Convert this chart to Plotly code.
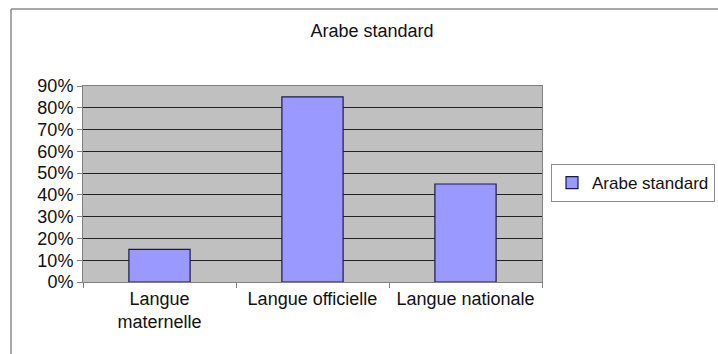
import plotly.graph_objects as go

categories = ["Langue<br>maternelle", "Langue officielle", "Langue nationale"]
values = [0.15, 0.85, 0.45]
series_name = "Arabe standard"
tick_vals = [i / 10 for i in range(10)]
tick_text = [f"{i * 10}%" for i in range(10)]

W, H = 718, 354
ML, MR, MT, MB = 83, 176, 86, 72
pw = W - ML - MR
ph = H - MT - MB

FONT = "Liberation Sans, Arial, sans-serif"

fig = go.Figure()
fig.add_trace(go.Bar(
    x=categories,
    y=values,
    name=series_name,
    marker=dict(color="#9999FF", line=dict(color="#1a1a4a", width=1.2)),
    showlegend=True,
))

# outer chart frame (top and left edges visible)
fx0 = (11 - ML) / pw
fy1 = (H - MB - 9) / ph
fig.add_shape(type="line", xref="paper", yref="paper",
              x0=fx0, x1=(W + 5 - ML) / pw, y0=fy1, y1=fy1,
              line=dict(color="#8c8c8c", width=1.5))
fig.add_shape(type="line", xref="paper", yref="paper",
              x0=fx0, x1=fx0, y0=fy1, y1=-(MB + 5) / ph,
              line=dict(color="#8c8c8c", width=1.5))

fig.update_layout(
    width=W, height=H,
    margin=dict(l=ML, r=MR, t=MT, b=MB, pad=0, autoexpand=False),
    paper_bgcolor="white",
    plot_bgcolor="#C0C0C0",
    bargap=0.6,
    font=dict(family=FONT, size=18, color="#111111"),
    title=dict(text=series_name, x=372 / W, xref="container", xanchor="center",
               y=1 - 31 / H, yref="container", yanchor="middle",
               font=dict(family=FONT, size=18, color="#111111")),
    legend=dict(x=(551 - ML) / pw, xanchor="left", y=(H - MB - 183) / ph, yanchor="middle",
                bordercolor="#8c8c8c", borderwidth=1, bgcolor="white",
                font=dict(family=FONT, size=17, color="#111111"),
                itemwidth=30, tracegroupgap=0),
)
fig.update_xaxes(
    type="category",
    showgrid=False,
    showline=True, linecolor="#808080", linewidth=1, mirror=True,
    ticks="outside", tickson="boundaries", ticklen=5, tickcolor="#808080",
    tickfont=dict(family=FONT, size=18, color="#111111"),
)
fig.update_yaxes(
    range=[0, 0.9],
    tickvals=tick_vals, ticktext=tick_text,
    showgrid=True, gridcolor="#222222", gridwidth=1,
    showline=True, linecolor="#808080", linewidth=1, mirror=True,
    ticks="outside", ticklen=5, tickcolor="#808080",
    tickfont=dict(family=FONT, size=18, color="#111111"),
    zeroline=False,
)

fig.write_html("out.html")
